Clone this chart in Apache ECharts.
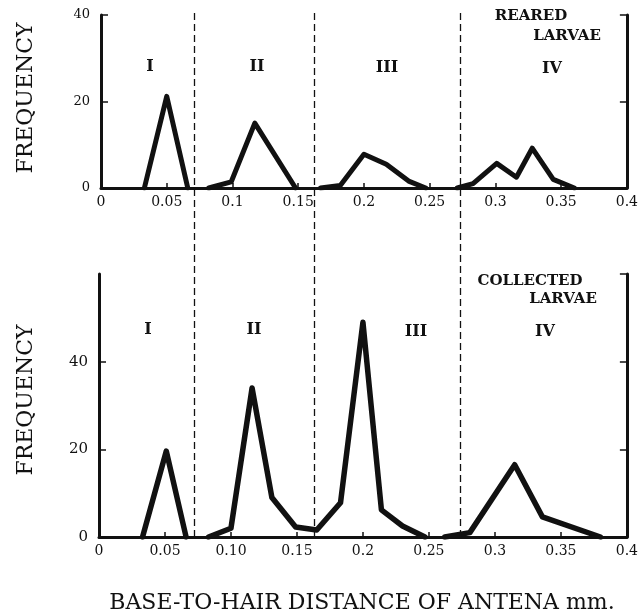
<!DOCTYPE html>
<html>
<head>
<meta charset="utf-8">
<script src="https://cdn.jsdelivr.net/npm/echarts@6/dist/echarts.min.js"></script>
<style>html,body{margin:0;padding:0;background:#fff;}#c{width:641px;height:616px;}</style>
</head>
<body>
<div id="c"></div>
<script>
// ---- data ----
const rearedX = [0.033, 0.050, 0.066, null, 0.082, 0.099, 0.117, 0.148, null, 0.167, 0.182, 0.200, 0.217, 0.234, 0.247, null, 0.271, 0.283, 0.301, 0.316, 0.328, 0.344, 0.360];
const rearedY = [0, 21.2, 0, null, 0, 1.4, 15, 0, null, 0, 0.6, 7.8, 5.5, 1.6, 0, null, 0, 1, 5.7, 2.5, 9.2, 2, 0];
const collectedX = [0.033, 0.051, 0.066, null, 0.083, 0.100, 0.116, 0.131, 0.149, 0.165, 0.183, 0.200, 0.214, 0.230, 0.247, null, 0.262, 0.281, 0.315, 0.336, 0.380];
const collectedY = [0, 19.6, 0, null, 0, 2, 34, 9, 2.3, 1.6, 7.8, 49, 6.2, 2.5, 0, null, 0, 1, 16.5, 4.6, 0];
const instarBounds = [0.075, 0.159, 0.268];
const topTickLabels = ["0", "0.05", "0.1", "0.15", "0.2", "0.25", "0.3", "0.35", "0.4"];
const bottomTickLabels = ["0", "0.05", "0.10", "0.15", "0.2", "0.25", "0.3", "0.35", "0.4"];
const instarNames = ["I", "II", "III", "IV"];

const FONT = "DejaVu Serif";
const INK = "#111";

function pairs(xs, ys) { return xs.map((x, i) => (x === null ? [null, null] : [x, ys[i]])); }
function xAxisCfg(grid, labels, show) {
  return {
    type: 'value', gridIndex: grid, min: 0, max: 0.4, interval: 0.05,
    show: show,
    axisLine: { show: true, onZero: false, lineStyle: { color: INK, width: 3 } },
    axisTick: { show: true, inside: true, length: 5, lineStyle: { color: INK, width: 1.5 } },
    axisLabel: { show: true, margin: 7, color: INK, fontFamily: FONT, fontSize: 14,
      formatter: v => labels[Math.round(v / 0.05)] },
    splitLine: { show: false }
  };
}
function yAxisCfg(grid, max, pos, labels, fs) {
  return {
    type: 'value', gridIndex: grid, min: 0, max: max, interval: 20, position: pos,
    axisLine: { show: true, onZero: false, lineStyle: { color: INK, width: 3 } },
    axisTick: { show: true, inside: true, length: 7, lineStyle: { color: INK, width: 1.5 } },
    axisLabel: { show: labels, margin: 11, color: INK, fontFamily: FONT, fontSize: fs, showMaxLabel: max === 40 },
    splitLine: { show: false }
  };
}

const chart = echarts.init(document.getElementById('c'), null, { renderer: 'canvas' });
const txt = (x, y, t, fs, bold, rot) => ({
  type: 'text', x: x, y: y, rotation: rot || 0, silent: true,
  style: { text: t, fill: INK, font: (bold ? 'bold ' : '') + fs + 'px "' + FONT + '"', textAlign: 'center', textVerticalAlign: 'middle' }
});

chart.setOption({
  backgroundColor: '#fff',
  animation: false,
  grid: [
    { left: 101, right: 8, top: 15, height: 173 },
    { left: 99, right: 8, top: 274, height: 263 },
    { left: 101, right: 8, top: 12, height: 525 }
  ],
  xAxis: [
    xAxisCfg(0, topTickLabels, true),
    xAxisCfg(1, bottomTickLabels, true),
    { type: 'value', gridIndex: 2, min: 0, max: 0.4, show: false }
  ],
  yAxis: [
    yAxisCfg(0, 40, 'left', true, 13),
    yAxisCfg(0, 40, 'right', false, 13),
    yAxisCfg(1, 60, 'left', true, 15),
    yAxisCfg(1, 60, 'right', false, 15),
    { type: 'value', gridIndex: 2, min: 0, max: 1, show: false }
  ],
  series: [
    { type: 'line', xAxisIndex: 0, yAxisIndex: 0, data: pairs(rearedX, rearedY), showSymbol: false, connectNulls: false,
      lineStyle: { color: INK, width: 5, join: 'round', cap: 'round' } },
    { type: 'line', xAxisIndex: 1, yAxisIndex: 2, data: pairs(collectedX, collectedY), showSymbol: false, connectNulls: false,
      lineStyle: { color: INK, width: 5.5, join: 'round', cap: 'round' } },
    { type: 'line', xAxisIndex: 2, yAxisIndex: 4, data: [], silent: true,
      markLine: { silent: true, symbol: 'none', label: { show: false },
        lineStyle: { color: INK, width: 1.3, type: [7, 4] },
        data: instarBounds.map(v => ({ xAxis: v })) } }
  ],
  graphic: [
    txt(150, 67, instarNames[0], 16, true), txt(257, 67, instarNames[1], 16, true),
    txt(387, 68, instarNames[2], 16, true), txt(552, 69, instarNames[3], 16, true),
    txt(531, 16, 'REARED', 15, true), txt(567, 36, 'LARVAE', 15, true),
    txt(148, 330, instarNames[0], 16, true), txt(254, 330, instarNames[1], 16, true),
    txt(416, 332, instarNames[2], 16, true), txt(545, 332, instarNames[3], 16, true),
    txt(530, 281, 'COLLECTED', 15, true), txt(563, 299, 'LARVAE', 15, true),
    txt(26, 98, 'FREQUENCY', 22, false, Math.PI / 2),
    txt(26, 400, 'FREQUENCY', 22, false, Math.PI / 2),
    txt(362, 603, 'BASE-TO-HAIR DISTANCE OF ANTENA mm.', 22, false)
  ]
});
</script>
</body>
</html>
